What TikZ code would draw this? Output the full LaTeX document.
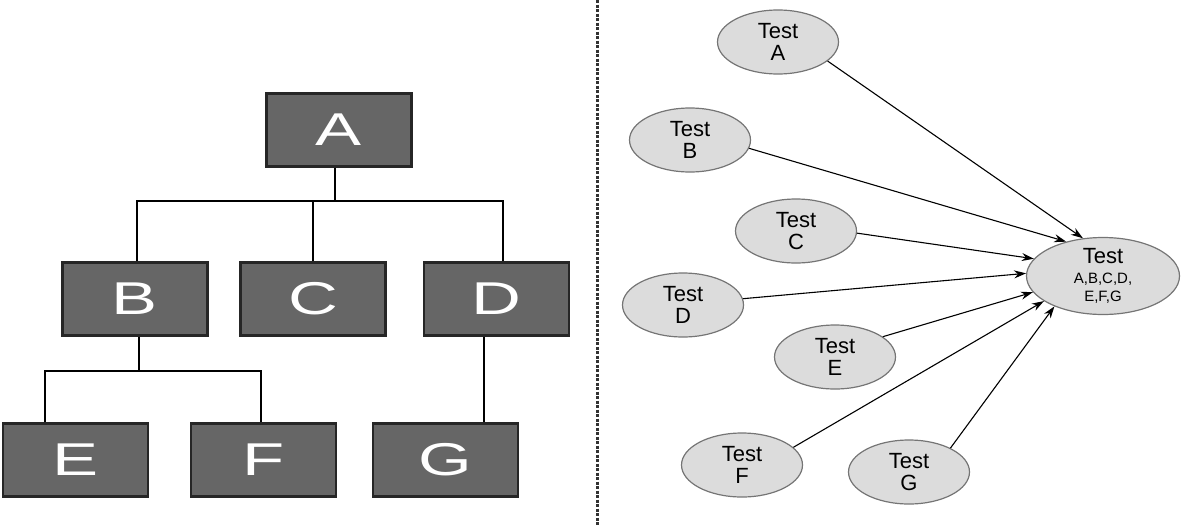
\documentclass[tikz,border=0pt]{standalone}
\usepackage{fontspec}
\setmainfont{Liberation Sans}
\usetikzlibrary{arrows.meta,shapes.geometric}
\definecolor{boxfill}{HTML}{666666}
\definecolor{boxline}{HTML}{262626}
\definecolor{ellfill}{HTML}{DCDCDC}
\definecolor{ellline}{HTML}{757575}
\definecolor{divcol}{HTML}{333333}
\tikzset{
  treebox/.style={draw=boxline, line width=2.4pt, fill=boxfill, minimum width=145pt, minimum height=73pt, inner sep=0pt, text=white, font=\fontsize{46}{46}\selectfont},
  treeline/.style={draw=black, line width=2.5pt},
  testell/.style={ellipse, draw=ellline, line width=1.2pt, fill=ellfill, minimum width=121pt, minimum height=64pt, inner sep=0pt, align=center, font=\fontsize{22}{22}\selectfont},
  bigell/.style={ellipse, draw=ellline, line width=1.2pt, fill=ellfill, minimum width=153pt, minimum height=76pt, inner sep=0pt, align=center},
  dep/.style={draw=black, line width=1.1pt, -{Stealth[length=12pt,width=8pt]}},
  divider/.style={draw=divcol, line width=3pt, dash pattern=on 3pt off 1.5pt}
}
\newcommand{\wide}[1]{\scalebox{1.5}[1]{#1}}
\begin{document}
\begin{tikzpicture}[x=1pt,y=-1pt]
\useasboundingbox (0,0) rectangle (1185,525);
% tree
\node[treebox] (A) at (339,130) {\wide{A}};
\node[treebox] (B) at (135,299) {\wide{B}};
\node[treebox] (C) at (313,299) {\wide{C}};
\node[treebox] (D) at (496.5,299) {\wide{D}};
\node[treebox] (E) at (75.5,460) {\wide{E}};
\node[treebox] (F) at (263.5,460) {\wide{F}};
\node[treebox] (G) at (445.5,460) {\wide{G}};
\coordinate (j1) at (335,201);
\coordinate (j2) at (139,371);
\draw[treeline] ([xshift=-4pt]A.south) -- (j1);
\draw[treeline] ([xshift=2pt]B.north) |- (j1) -| ([xshift=6.5pt]D.north);
\draw[treeline] (C.north) -- (C.north |- j1);
\draw[treeline] ([xshift=4pt]B.south) -- (j2);
\draw[treeline] ([xshift=-30.5pt]E.north) |- (j2) -| ([xshift=-2.5pt]F.north);
\draw[treeline] ([xshift=-12.5pt]D.south) -- ([xshift=-12.5pt]D.south |- G.north);
% divider
\coordinate (dtop) at (597.5,0);
\coordinate (dbot) at (597.5,525);
\draw[divider] (dtop) -- (dbot);
% tests
\node[testell] (tA) at (778,42) {Test\\A};
\node[testell] (tB) at (690,140) {Test\\B};
\node[testell] (tC) at (796,231) {Test\\C};
\node[testell] (tD) at (683,305) {Test\\D};
\node[testell] (tE) at (835,357) {Test\\E};
\node[testell] (tF) at (742,465) {Test\\F};
\node[testell] (tG) at (909,472) {Test\\G};
\node[bigell] (T) at (1103,276) {\fontsize{22}{22}\selectfont Test\\[8pt]\fontsize{15}{17}\selectfont A,B,C,D,\\[4pt]\fontsize{15}{17}\selectfont E,F,G};
\draw[dep] (tA.-21) -- (T.118);
\draw[dep] (tB.-8) -- (T.137);
\draw[dep] (tC.-2) -- (T.166);
\draw[dep] (tD.6) -- (T.178);
\draw[dep] (tE.23) -- (T.193);
\draw[dep] (tF.19) -- (T.203);
\draw[dep] (tG.30) -- (T.212);
\end{tikzpicture}
\end{document}
